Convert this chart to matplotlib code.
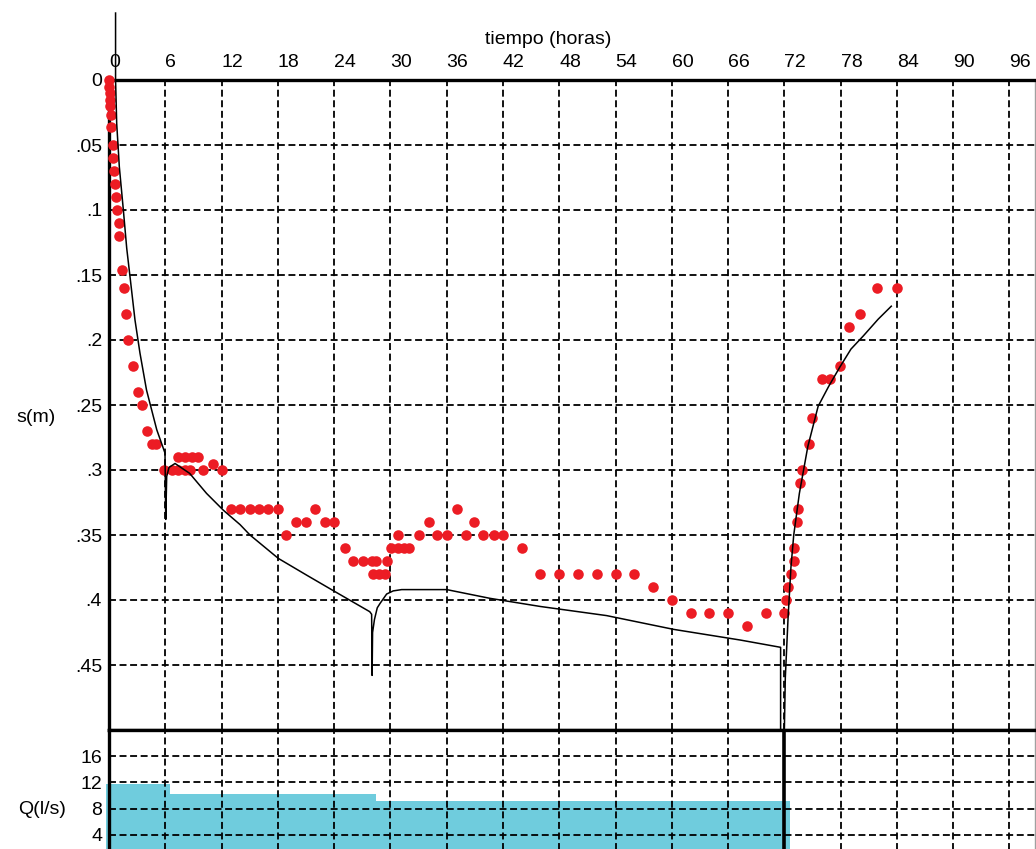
import matplotlib
matplotlib.use('Agg')
from matplotlib import pyplot as plt

plt.rcParams['font.family'] = ['Liberation Sans', 'DejaVu Sans']
plt.rcParams['lines.scale_dashes'] = False

# descensos observados (t en horas, s en m)
t_obs = [0.0, 0.05, 0.1, 0.1, 0.15, 0.2, 0.25,
         0.39, 0.46, 0.53, 0.64, 0.75, 0.89, 1.03, 1.03, 1.42, 1.6, 1.81, 2.06, 2.6, 3.13, 3.48, 4.09, 4.55, 4.97,
         5.86, 6.68, 7.39, 8.1, 8.64, 10.06, 12.08,
         7.39, 8.1, 8.81, 9.52, 11.05,
         13, 14, 15, 16, 17, 18,
         18.9, 19.9, 21.0, 22.0, 23.0, 24.0,
         25.2, 26.0, 27.1, 28.0, 28.5, 29.6,
         28.1, 28.8, 29.4,
         30.1, 30.8, 31.4, 32.0,
         30.8, 33.1, 34.1, 35.0, 36.0, 37.1, 38.1, 38.9, 39.9, 41.0, 42.0, 44.0,
         46, 48, 50, 52, 54, 56, 58, 60, 62, 64, 66, 68, 70, 72,
         72.2, 72.4, 72.7, 73.0, 73.0, 73.3, 73.5, 73.7, 73.9, 74.6, 74.9, 76.0, 76.9, 77.9, 78.9, 80.1, 81.9, 84.0]
s_obs = [0.0, 0.005, 0.01, 0.015, 0.02, 0.027, 0.036,
         0.05, 0.06, 0.07, 0.08, 0.09, 0.10, 0.11, 0.12, 0.146, 0.16, 0.18, 0.20, 0.22, 0.24, 0.25, 0.27, 0.28, 0.28,
         0.30, 0.30, 0.30, 0.30, 0.30, 0.30, 0.30,
         0.29, 0.29, 0.29, 0.29, 0.295,
         0.33, 0.33, 0.33, 0.33, 0.33, 0.33,
         0.35, 0.34, 0.34, 0.33, 0.34, 0.34,
         0.36, 0.37, 0.37, 0.37, 0.37, 0.37,
         0.38, 0.38, 0.38,
         0.36, 0.36, 0.36, 0.36,
         0.35, 0.35, 0.34, 0.35, 0.35, 0.33, 0.35, 0.34, 0.35, 0.35, 0.35, 0.36,
         0.38, 0.38, 0.38, 0.38, 0.38, 0.38, 0.39, 0.40, 0.41, 0.41, 0.41, 0.42, 0.41, 0.41,
         0.40, 0.39, 0.38, 0.37, 0.36, 0.34, 0.33, 0.31, 0.30, 0.28, 0.26, 0.23, 0.23, 0.22, 0.19, 0.18, 0.16, 0.16]

# curva calculada durante el bombeo
t_mod = [0.7, 0.7, 0.82, 1.1, 1.53, 1.89, 2.24, 2.77, 3.3, 4.0, 5.09, 5.97, 6.05, 6.15, 6.4, 7.04, 8.6,
         10.4, 12.2, 13.97, 15.03, 18.05, 21.1, 24.1, 27.8, 28.0, 28.05, 28.1, 28.3, 28.6, 28.9, 29.6,
         30.3, 31.2, 36.0, 40.6, 46.0, 53.05, 60.2, 67.3, 71.6, 71.6]
s_mod = [-0.0515, 0.0, 0.0333, 0.0667, 0.1, 0.1295, 0.1513, 0.1846, 0.21, 0.2385, 0.269, 0.287, 0.338, 0.305, 0.298, 0.295, 0.3026,
         0.318, 0.331, 0.342, 0.35, 0.368, 0.381, 0.3936, 0.409, 0.411, 0.458, 0.425, 0.415, 0.406, 0.4026, 0.3954,
         0.393, 0.392, 0.392, 0.3987, 0.405, 0.412, 0.4226, 0.4308, 0.4364, 0.5]

# curva calculada de recuperacion
t_rec = [72.0, 72.1, 72.4, 72.7, 73.0, 73.6, 74.5, 75.6, 76.7, 77.9, 79.1, 80.4, 82.0, 83.4]
s_rec = [0.5, 0.46, 0.413, 0.375, 0.35, 0.318, 0.282, 0.251, 0.236, 0.221, 0.207, 0.197, 0.184, 0.174]

# caudal de bombeo
q_edges = [-0.35, 6.5, 28.5, 72.6]
q_vals = [11.8, 10.3, 9.1]
t_stop = 72

x_ticks = list(range(0, 97, 6))
s_ticks = [0, 0.05, 0.1, 0.15, 0.2, 0.25, 0.3, 0.35, 0.4, 0.45]
s_labels = ['0', '.05', '.1', '.15', '.2', '.25', '.3', '.35', '.4', '.45']
q_ticks = [4, 8, 12, 16]
q_labels = ['4', '8', '12', '16']

W, H = 1036, 849
PXH = 9.38  # pixeles por hora


def caja(x0, y0, x1, y1):
    return [x0 / W, 1 - y1 / H, (x1 - x0) / W, (y1 - y0) / H]


fig = plt.figure(figsize=(W / 100, H / 100), dpi=100)
ax = fig.add_axes(caja(109, 80, 1035, 730))
ax2 = fig.add_axes(caja(109, 730, 1035, 861))

xmax = (1035 - 109) / PXH
grid_kw = dict(color='k', linewidth=1.3, linestyle=(0, (5, 2.6)))

for a in (ax, ax2):
    a.set_xlim(0, xmax)
    a.set_xticks(x_ticks)
    a.grid(True, **grid_kw)
    a.spines['left'].set_linewidth(2.4)
    a.spines['top'].set_linewidth(2.4)
    a.spines['right'].set_color('#a0a0a0')
    a.spines['right'].set_linewidth(1)
    a.tick_params(length=0, labelsize=14)

ax.set_ylim(0.5, 0)
ax.spines['bottom'].set_linewidth(2.4)
ax.xaxis.tick_top()
ax.tick_params(axis='x', pad=6.5)
ax.tick_params(axis='y', pad=5)
for lab in ax.get_xticklabels():
    lab.set_ha('left')
ax.set_yticks(s_ticks, s_labels)

ax2.set_ylim(0, 20)
ax2.spines['bottom'].set_visible(False)
ax2.tick_params(axis='x', labelbottom=False, labeltop=False)
ax2.tick_params(axis='y', pad=5)
ax2.set_yticks(q_ticks, q_labels)

ax.plot(t_obs, s_obs, 'o', color='#ec1c24', ms=7.6, mec='none', zorder=3, clip_on=False)
ax.plot(t_mod, s_mod, color='k', lw=1.1, zorder=4, clip_on=False)
ax.plot(t_rec, s_rec, color='k', lw=1.1, zorder=4)

ax2.stairs(q_vals, q_edges, fill=True, color='#6fccdd', lw=0, zorder=1, clip_on=False)
ax2.axvline(t_stop, color='k', lw=2.6, zorder=4)

fig.text(548 / W, 1 - 40 / H, 'tiempo (horas)', ha='center', va='center', fontsize=14)
fig.text(36 / W, 1 - 418 / H, 's(m)', ha='center', va='center', fontsize=14)
fig.text(42 / W, 1 - 810 / H, 'Q(l/s)', ha='center', va='center', fontsize=14)

fig.savefig('out.png', dpi=100)
